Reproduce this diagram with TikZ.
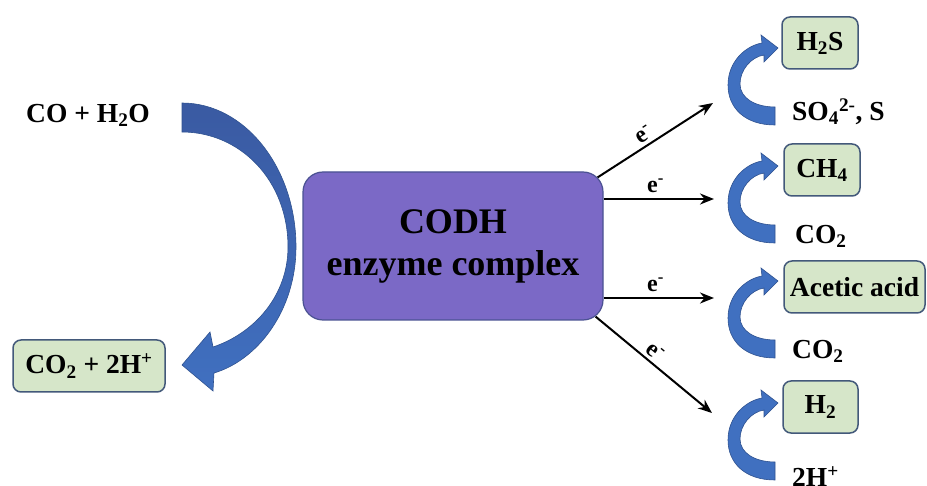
\documentclass[tikz,border=0pt]{standalone}
\usepackage{fontspec}
\setmainfont{Liberation Serif}
\usetikzlibrary{arrows.meta,calc}
\definecolor{boxgreen}{HTML}{D6E6C9}
\definecolor{boxedge}{HTML}{43597A}
\definecolor{codhfill}{HTML}{7B69C6}
\definecolor{codhedge}{HTML}{4B5292}
\definecolor{arrowblue}{HTML}{4070C0}
\definecolor{arrowdark}{HTML}{3A5AA2}
\definecolor{arrowedge}{HTML}{2F5290}
\tikzset{
  lbl/.style={font=\fontsize{27.5}{31}\selectfont\bfseries, inner sep=0pt},
  greenbox/.style={lbl, draw=boxedge, fill=boxgreen, line width=1.5pt, rounded corners=8pt, minimum height=52pt},
  elbl/.style={font=\fontsize{24}{28}\selectfont\bfseries, inner sep=0pt},
  eflow/.style={line width=2pt, -{Stealth[length=14pt,width=11pt]}},
  bendarrow/.style={fill=arrowblue, draw=arrowedge, line width=0.6pt}
}
\newcommand\smallbend[1]{%
  \filldraw[bendarrow, shift={(0,#1)}]
    (775,125) .. controls (745,125) and (728,108) .. (728,85)
    .. controls (728,62) and (745,46) .. (762,43)
    -- (761,35) -- (778,48) -- (764,62) -- (764,55)
    .. controls (751,57) and (740,70) .. (740,84)
    .. controls (740,98) and (755,107) .. (775,107) -- cycle;}
\begin{document}
\begin{tikzpicture}[x=1pt,y=-1pt]
\useasboundingbox (0,0) rectangle (927,486);
\fill[white] (0,0) rectangle (927,486);

% big left curved arrow
\shadedraw[top color=arrowdark, bottom color=arrowblue, draw=arrowedge, line width=0.6pt]
  (182,103) .. controls (245,103) and (296,168) .. (296,247)
  .. controls (296,310) and (258,360) .. (214,373)
  -- (213,391) -- (182,365) -- (210,332) -- (213,347)
  .. controls (255,333) and (288,295) .. (288,247)
  .. controls (288,180) and (240,132) .. (182,132) -- cycle;

% left labels
\node[lbl] (react) at (88,115) {CO + H\textsubscript{2}O};
\node[greenbox, minimum width=152pt] (prod) at (89,366) {CO\textsubscript{2} + 2H\textsuperscript{+}};

% central enzyme box
\node[draw=codhedge, fill=codhfill, line width=1.2pt, rounded corners=20pt,
      minimum width=300pt, minimum height=148pt, align=center,
      font=\fontsize{36}{42}\selectfont\bfseries] (codh) at (453,246)
      {CODH\\enzyme complex};

% right side products
\node[greenbox, minimum width=76pt] (h2s) at (820,43) {H\textsubscript{2}S};
\node[greenbox, minimum width=76pt] (ch4) at (822,170) {CH\textsubscript{4}};
\node[greenbox, minimum width=141pt] (acetic) at (854.5,287) {Acetic acid};
\node[greenbox, minimum width=75pt] (h2) at (820.5,407) {H\textsubscript{2}};

\node[lbl, anchor=west] (so4) at (792,112) {SO\textsubscript{4}\textsuperscript{2-}, S};
\node[lbl, anchor=west] (co2a) at (795,236) {CO\textsubscript{2}};
\node[lbl, anchor=west] (co2b) at (792,351) {CO\textsubscript{2}};
\node[lbl, anchor=west] (hplus) at (792,477) {2H\textsuperscript{+}};

% small curved arrows
\smallbend{0}
\smallbend{118}
\smallbend{233}
\smallbend{355}

% electron flow arrows
\coordinate (t1) at (713,103);
\coordinate (t2) at (714,199);
\coordinate (t3) at (714,298);
\coordinate (t4) at (712,413);
\draw[eflow] ([shift={(-6,6)}]codh.north east) -- (t1)
  node[elbl, pos=0.45, above=3pt, sloped] {e\textsuperscript{-}};
\draw[eflow] ([shift={(0,-47)}]codh.east) -- (t2)
  node[elbl, pos=0.47, above=5pt] {e\textsuperscript{-}};
\draw[eflow] ([shift={(0,52)}]codh.east) -- (t3)
  node[elbl, pos=0.47, above=5pt] {e\textsuperscript{-}};
\draw[eflow] ([shift={(-8,-4)}]codh.south east) -- (t4)
  node[elbl, pos=0.45, above=3pt, sloped] {e\textsuperscript{-}};
\end{tikzpicture}
\end{document}
